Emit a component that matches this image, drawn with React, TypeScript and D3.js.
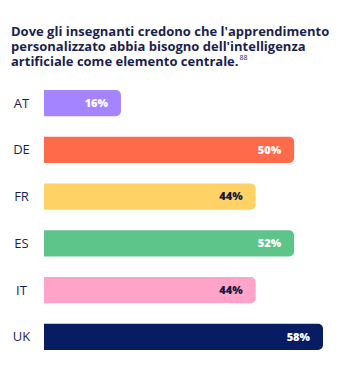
import React from "react";
import * as d3 from "d3";

const titleLines = [
  "Dove gli insegnanti credono che l'apprendimento",
  "personalizzato abbia bisogno dell'intelligenza",
  "artificiale come elemento centrale.",
];
const footnote = "88";
const categories = ["AT", "DE", "FR", "ES", "IT", "UK"];
const barValues = [16, 52, 44, 52, 44, 58];
const valueLabels = ["16%", "50%", "44%", "52%", "44%", "58%"];
const colors = ["#a585ff", "#ff6b4a", "#ffd266", "#5ec58a", "#ffa3c8", "#081c63"];
const labelColors = ["#ffffff", "#ffffff", "#14193f", "#ffffff", "#14193f", "#ffffff"];

const W = 356;
const H = 373;
const navy = "#1a1f4e";

function barPath(x0: number, y: number, w: number, h: number, r: number) {
  const p = d3.path();
  p.moveTo(x0, y);
  p.lineTo(x0 + w - r, y);
  p.arcTo(x0 + w, y, x0 + w, y + r, r);
  p.lineTo(x0 + w, y + h - r);
  p.arcTo(x0 + w, y + h, x0 + w - r, y + h, r);
  p.lineTo(x0, y + h);
  p.closePath();
  return p.toString();
}

export default function App() {
  const x = d3.scaleLinear().domain([0, 58]).range([44, 323]);
  const y = d3
    .scaleBand<string>()
    .domain(categories)
    .range([90, 350])
    .paddingInner(0.44)
    .paddingOuter(0);
  const bw = y.bandwidth();
  return (
    <svg
      width={W}
      height={H}
      style={{ position: "absolute", left: 0, top: 0, background: "#fff" }}
    >
      <g fontFamily="'Open Sans', sans-serif" fontWeight={700} fontSize={13} fill={navy}>
        {titleLines.map((t, i) => (
          <text key={i} x={11} y={35.5 + i * 15}>
            {t}
            {i === titleLines.length - 1 ? (
              <tspan fontSize={7} fontWeight={400} dy={-6} dx={1}>
                {footnote}
              </tspan>
            ) : null}
          </text>
        ))}
      </g>
      {categories.map((c, i) => {
        const yy = y(c)!;
        const x1 = x(barValues[i]);
        return (
          <g key={c}>
            <text
              x={21.5}
              y={yy + bw / 2}
              dy="0.35em"
              textAnchor="middle"
              fontFamily="'Open Sans', sans-serif"
              fontSize={13}
              fill={navy}
            >
              {c}
            </text>
            <path d={barPath(x(0), yy, x1 - x(0), bw, 5)} fill={colors[i]} />
            <text
              x={x1 - 13}
              y={yy + bw / 2}
              dy="0.35em"
              textAnchor="end"
              fontFamily="'Open Sans', sans-serif"
              fontWeight={800}
              fontSize={11}
              fill={labelColors[i]}
            >
              {valueLabels[i]}
            </text>
          </g>
        );
      })}
    </svg>
  );
}
